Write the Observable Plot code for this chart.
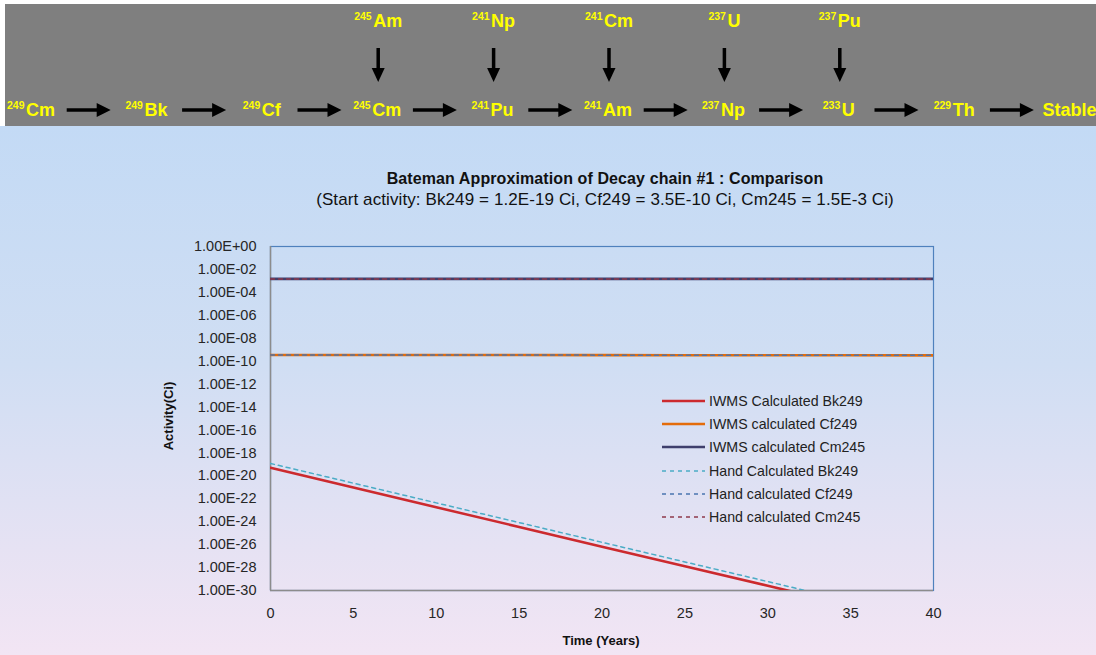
<!DOCTYPE html>
<html>
<head>
<meta charset="utf-8">
<script src="https://cdn.jsdelivr.net/npm/d3@7"></script>
<script src="https://cdn.jsdelivr.net/npm/@observablehq/plot@0.6"></script>
<style>
  html, body { margin: 0; padding: 0; width: 1096px; height: 655px; overflow: hidden; background: #fff; }
  #page { position: relative; width: 1096px; height: 655px; font-family: "Liberation Sans", Arial, sans-serif; }
  #banner { position: absolute; left: 0; top: 0; }
  #chartbg { position: absolute; left: 0; top: 126px; width: 1096px; height: 529px;
    background: linear-gradient(to bottom, #c3daf5 0%, #d0def3 45%, #e6e2f3 80%, #f2e5f4 100%); }
  #plot { position: absolute; left: 0; top: 126px; }
  .title { position: absolute; left: 0; width: 1210px; text-align: center; color: #111; white-space: nowrap; }
  #t1 { top: 170px; font-size: 16px; font-weight: bold; letter-spacing: 0.1px; }
  #t2 { top: 190px; font-size: 17px; letter-spacing: 0.1px; }
  #ytitle { position: absolute; left: 168px; top: 416px; transform: translate(-50%, -50%) rotate(-90deg);
    font-size: 13px; font-weight: bold; color: #111; white-space: nowrap; }
  #xtitle { position: absolute; left: 601px; top: 640px; transform: translate(-50%, -50%);
    font-size: 13px; font-weight: bold; color: #111; white-space: nowrap; }
  #legend { position: absolute; left: 660px; top: 389px; font-size: 14.2px; color: #222; }
  #legend .row { height: 23.3px; display: flex; align-items: center; white-space: nowrap; }
  #legend svg { width: 46px; height: 10px; margin-right: 3px; }
</style>
</head>
<body>
<div id="page">
  <svg id="banner" width="1096" height="126"></svg>
  <div id="chartbg"></div>
  <div id="plot"></div>
  <div class="title" id="t1"></div>
  <div class="title" id="t2"></div>
  <div id="ytitle"></div>
  <div id="xtitle"></div>
  <div id="legend"></div>
</div>
<script>
// ---------------- data ----------------
const chainMass   = ["249", "249", "249", "245", "241", "241", "237", "233", "229", ""];
const chainElem   = ["Cm",  "Bk",  "Cf",  "Cm",  "Pu",  "Am",  "Np",  "U",   "Th",  "Stable"];
const feedIndex   = [3, 4, 5, 6, 7];
const feedMass    = ["245", "241", "241", "237", "237"];
const feedElem    = ["Am",  "Np",  "Cm",  "U",   "Pu"];

const titleText    = "Bateman Approximation of Decay chain #1 : Comparison";
const subtitleText = "(Start activity: Bk249 = 1.2E-19 Ci, Cf249 = 3.5E-10 Ci, Cm245 = 1.5E-3 Ci)";
const xTitle = "Time (Years)";
const yTitle = "Activity(Ci)";

const years = [0, 5, 10, 15, 20, 25, 30, 35, 40];
const iwmsBk249 = [5.0e-20, 9.5e-22, 1.8e-23, 3.5e-25, 6.6e-27, 1.3e-28, 2.6e-30, 4.9e-32, 9.3e-34];
const iwmsCf249 = [3.5e-10, 3.47e-10, 3.43e-10, 3.40e-10, 3.36e-10, 3.33e-10, 3.30e-10, 3.26e-10, 3.23e-10];
const iwmsCm245 = [1.5e-3, 1.5e-3, 1.5e-3, 1.5e-3, 1.5e-3, 1.49e-3, 1.49e-3, 1.49e-3, 1.49e-3];
const handBk249 = [1.2e-19, 2.3e-21, 4.4e-23, 8.4e-25, 1.6e-26, 3.1e-28, 6.0e-30, 1.15e-31, 2.2e-33];
const handCf249 = [3.5e-10, 3.47e-10, 3.43e-10, 3.40e-10, 3.36e-10, 3.33e-10, 3.30e-10, 3.26e-10, 3.23e-10];
const handCm245 = [1.5e-3, 1.5e-3, 1.5e-3, 1.5e-3, 1.5e-3, 1.49e-3, 1.49e-3, 1.49e-3, 1.49e-3];

const seriesNames = ["IWMS Calculated Bk249", "IWMS calculated Cf249", "IWMS calculated Cm245",
                     "Hand Calculated Bk249", "Hand calculated Cf249", "Hand calculated Cm245"];
const seriesValues = [iwmsBk249, iwmsCf249, iwmsCm245, handBk249, handCf249, handCm245];

const xTicks = [0, 5, 10, 15, 20, 25, 30, 35, 40];
const yTicks = [1e0, 1e-2, 1e-4, 1e-6, 1e-8, 1e-10, 1e-12, 1e-14, 1e-16, 1e-18, 1e-20, 1e-22, 1e-24, 1e-26, 1e-28, 1e-30];
const yTickLabels = ["1.00E+00", "1.00E-02", "1.00E-04", "1.00E-06", "1.00E-08", "1.00E-10", "1.00E-12", "1.00E-14",
                     "1.00E-16", "1.00E-18", "1.00E-20", "1.00E-22", "1.00E-24", "1.00E-26", "1.00E-28", "1.00E-30"];

// ---------------- styles ----------------
const seriesStyle = [
  {stroke: "#cc2a2e", strokeWidth: 2.6, dash: null},
  {stroke: "#e46c0a", strokeWidth: 2.6, dash: null},
  {stroke: "#3e3f6c", strokeWidth: 2.6, dash: null},
  {stroke: "#4bacc6", strokeWidth: 1.5, dash: "4,4"},
  {stroke: "#4a74b0", strokeWidth: 1.5, dash: "4,4"},
  {stroke: "#8e3a4c", strokeWidth: 1.5, dash: "4,4"}
];

// ---------------- banner ----------------
const banner = d3.select("#banner");
banner.append("rect").attr("x", 5).attr("y", 4).attr("width", 1091).attr("height", 122).attr("fill", "#7f7f7f");
const c0 = 31, step = 115.4;
const cx = i => c0 + step * i;
function label(x, y, mass, elem) {
  const t = banner.append("text").attr("x", x).attr("y", y).attr("text-anchor", "middle")
    .attr("fill", "#ffff00").attr("font-family", "Liberation Sans, Arial, sans-serif")
    .attr("font-weight", "bold").attr("font-size", 18);
  if (mass) t.append("tspan").attr("font-size", 10.5).attr("dy", -7).text(mass);
  t.append("tspan").attr("dy", mass ? 7 : 0).attr("dx", mass ? 1.5 : 0).text(elem);
}
chainElem.forEach((e, i) => label(cx(i), 116, chainMass[i], e));
feedElem.forEach((e, k) => label(cx(feedIndex[k]) + 1, 27, feedMass[k], e));
// horizontal arrows
for (let i = 0; i < chainElem.length - 1; i++) {
  const m = (cx(i) + cx(i + 1)) / 2, x1 = m - 22, x2 = m + 22, y = 110;
  banner.append("line").attr("x1", x1).attr("x2", x2 - 12).attr("y1", y).attr("y2", y)
    .attr("stroke", "#000").attr("stroke-width", 3.5);
  banner.append("path").attr("d", `M${x2 - 14},${y - 7}L${x2},${y}L${x2 - 14},${y + 7}Z`).attr("fill", "#000");
}
// vertical arrows
feedIndex.forEach(i => {
  const x = cx(i) + 1;
  banner.append("line").attr("x1", x).attr("x2", x).attr("y1", 48).attr("y2", 70)
    .attr("stroke", "#000").attr("stroke-width", 3.5);
  banner.append("path").attr("d", `M${x - 6.5},${68}L${x},${82}L${x + 6.5},${68}Z`).attr("fill", "#000");
});

// ---------------- texts ----------------
document.getElementById("t1").textContent = titleText;
document.getElementById("t2").textContent = subtitleText;
document.getElementById("xtitle").textContent = xTitle;
document.getElementById("ytitle").textContent = yTitle;

// ---------------- chart ----------------
const rows = [];
seriesValues.forEach((vals, s) => vals.forEach((v, j) => rows.push({series: seriesNames[s], t: years[j], v})));

const lineMarks = seriesNames.map((name, s) => Plot.line(rows.filter(r => r.series === name), {
  x: "t", y: "v", stroke: seriesStyle[s].stroke, strokeWidth: seriesStyle[s].strokeWidth,
  strokeDasharray: seriesStyle[s].dash, clip: true
}));

const chart = Plot.plot({
  width: 1096, height: 529,
  marginLeft: 270, marginRight: 163, marginTop: 120, marginBottom: 65,
  style: {background: "transparent", fontFamily: "Liberation Sans, Arial, sans-serif", fontSize: "14.5px", color: "#262626", overflow: "visible"},
  x: {domain: [0, 40], ticks: xTicks, tickSize: 0, tickPadding: 17, label: null},
  y: {type: "log", domain: [1e-30, 1], ticks: yTicks, tickSize: 0, tickPadding: 14, label: null,
      tickFormat: d => yTickLabels[Math.round(-Math.log10(d) / 2)]},
  marks: [
    Plot.frame({stroke: "#4f81bd", strokeWidth: 1.2}),
    Plot.ruleX([0], {stroke: "#8c8c8c", strokeWidth: 1.5}),
    Plot.ruleY([1e-30], {stroke: "#8c8c8c", strokeWidth: 1.5}),
    ...lineMarks
  ]
});
document.getElementById("plot").appendChild(chart);

// ---------------- legend ----------------
const legend = d3.select("#legend");
seriesNames.forEach((name, s) => {
  const row = legend.append("div").attr("class", "row");
  const sv = row.append("svg");
  sv.append("line").attr("x1", 2).attr("x2", 45).attr("y1", 5).attr("y2", 5)
    .attr("stroke", seriesStyle[s].stroke).attr("stroke-width", seriesStyle[s].strokeWidth)
    .attr("stroke-dasharray", seriesStyle[s].dash);
  row.append("span").text(name);
});
</script>
</body>
</html>
